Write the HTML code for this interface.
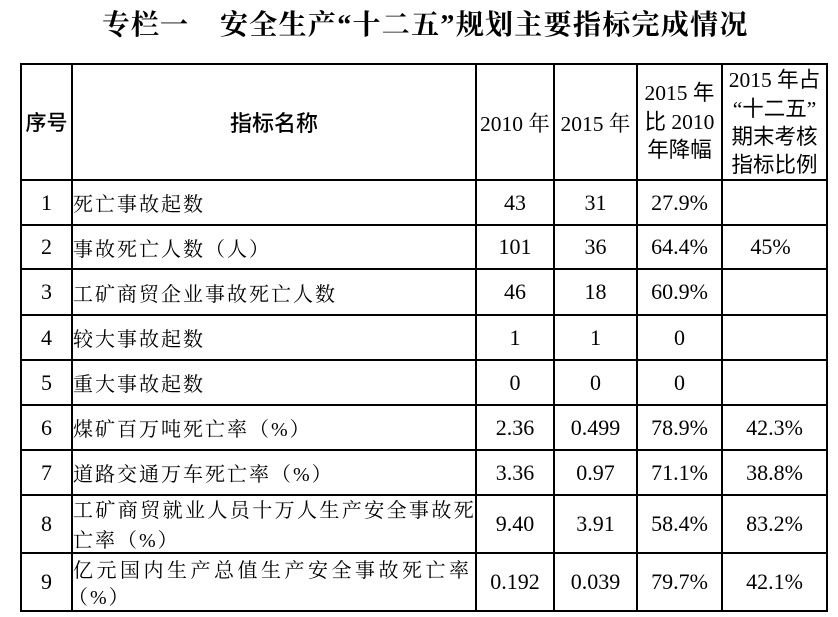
<!DOCTYPE html>
<html>
<head>
<meta charset="utf-8">
<style>
html,body{margin:0;padding:0;background:#fff;}
#p{position:relative;width:838px;height:617px;overflow:hidden;background:#fff;color:#000;}
.h{position:absolute;height:2px;background:#000;left:20px;width:808px;}
.v{position:absolute;width:2px;background:#000;top:63px;height:549px;}
.c{position:absolute;display:flex;align-items:center;justify-content:center;white-space:nowrap;text-align:center;}
.n{font-family:"Liberation Serif","Noto Serif CJK SC",serif;font-size:22px;}
.t{position:absolute;left:73px;display:flex;align-items:center;white-space:nowrap;font-family:"Liberation Serif","Noto Serif CJK SC",serif;font-size:20px;letter-spacing:2px;}
.ttl{position:absolute;top:8px;height:36px;line-height:36px;font-family:"Liberation Serif","Noto Serif CJK SC",serif;font-weight:bold;font-size:28px;white-space:nowrap;}
.hs{font-family:"Liberation Serif","Noto Sans CJK SC",sans-serif;font-size:21.5px;line-height:28.4px;}
.hr{font-family:"Liberation Serif","Noto Serif CJK SC",serif;font-size:21.5px;}
</style>
</head>
<body>
<div id="p">
<div class="ttl" style="left:102px;letter-spacing:1px;">专栏一</div>
<div class="ttl" style="left:220px;letter-spacing:1.3px;">安全生产“十二五”规划主要指标完成情况</div>

<!-- horizontal lines -->
<div class="h" style="top:63px"></div>
<div class="h" style="top:179px"></div>
<div class="h" style="top:224px"></div>
<div class="h" style="top:268px"></div>
<div class="h" style="top:314px"></div>
<div class="h" style="top:359px"></div>
<div class="h" style="top:404px"></div>
<div class="h" style="top:449px"></div>
<div class="h" style="top:494px"></div>
<div class="h" style="top:552px"></div>
<div class="h" style="top:610px"></div>
<!-- vertical lines -->
<div class="v" style="left:20px"></div>
<div class="v" style="left:71px"></div>
<div class="v" style="left:475px"></div>
<div class="v" style="left:553px"></div>
<div class="v" style="left:636px"></div>
<div class="v" style="left:721px"></div>
<div class="v" style="left:826px"></div>

<!-- header -->
<div class="c" style="left:22px;width:49px;top:65px;height:114px;font-family:'Noto Sans CJK SC',sans-serif;font-weight:500;font-size:21px;">序号</div>
<div class="c" style="left:73px;width:402px;top:65px;height:114px;font-family:'Noto Sans CJK SC',sans-serif;font-weight:500;font-size:22px;">指标名称</div>
<div class="c hr" style="left:477px;width:76px;top:65px;height:114px;">2010 年</div>
<div class="c hr" style="left:555px;width:81px;top:65px;height:114px;">2015 年</div>
<div class="c hs" style="left:638px;width:83px;top:65px;height:114px;"><div>2015 年<br>比 2010<br>年降幅</div></div>
<div class="c hs" style="left:723px;width:103px;top:66px;height:114px;"><div>2015 年占<br>“十二五”<br>期末考核<br>指标比例</div></div>

<!-- row 1 -->
<div class="c n" style="left:22px;width:49px;top:181px;height:43px;">1</div>
<div class="t" style="top:181px;height:43px;">死亡事故起数</div>
<div class="c n" style="left:477px;width:76px;top:181px;height:43px;">43</div>
<div class="c n" style="left:555px;width:81px;top:181px;height:43px;">31</div>
<div class="c n" style="left:638px;width:83px;top:181px;height:43px;">27.9%</div>
<!-- row 2 -->
<div class="c n" style="left:22px;width:49px;top:226px;height:42px;">2</div>
<div class="t" style="top:226px;height:42px;">事故死亡人数（人）</div>
<div class="c n" style="left:477px;width:76px;top:226px;height:42px;">101</div>
<div class="c n" style="left:555px;width:81px;top:226px;height:42px;">36</div>
<div class="c n" style="left:638px;width:83px;top:226px;height:42px;">64.4%</div>
<div class="c n" style="left:719px;width:103px;top:226px;height:42px;">45%</div>
<!-- row 3 -->
<div class="c n" style="left:22px;width:49px;top:270px;height:44px;">3</div>
<div class="t" style="top:270px;height:44px;">工矿商贸企业事故死亡人数</div>
<div class="c n" style="left:477px;width:76px;top:270px;height:44px;">46</div>
<div class="c n" style="left:555px;width:81px;top:270px;height:44px;">18</div>
<div class="c n" style="left:638px;width:83px;top:270px;height:44px;">60.9%</div>
<!-- row 4 -->
<div class="c n" style="left:22px;width:49px;top:316px;height:43px;">4</div>
<div class="t" style="top:316px;height:43px;">较大事故起数</div>
<div class="c n" style="left:477px;width:76px;top:316px;height:43px;">1</div>
<div class="c n" style="left:555px;width:81px;top:316px;height:43px;">1</div>
<div class="c n" style="left:638px;width:83px;top:316px;height:43px;">0</div>
<!-- row 5 -->
<div class="c n" style="left:22px;width:49px;top:361px;height:43px;">5</div>
<div class="t" style="top:361px;height:43px;">重大事故起数</div>
<div class="c n" style="left:477px;width:76px;top:361px;height:43px;">0</div>
<div class="c n" style="left:555px;width:81px;top:361px;height:43px;">0</div>
<div class="c n" style="left:638px;width:83px;top:361px;height:43px;">0</div>
<!-- row 6 -->
<div class="c n" style="left:22px;width:49px;top:406px;height:43px;">6</div>
<div class="t" style="top:406px;height:43px;">煤矿百万吨死亡率（%）</div>
<div class="c n" style="left:477px;width:76px;top:406px;height:43px;">2.36</div>
<div class="c n" style="left:555px;width:81px;top:406px;height:43px;">0.499</div>
<div class="c n" style="left:638px;width:83px;top:406px;height:43px;">78.9%</div>
<div class="c n" style="left:723px;width:103px;top:406px;height:43px;">42.3%</div>
<!-- row 7 -->
<div class="c n" style="left:22px;width:49px;top:451px;height:43px;">7</div>
<div class="t" style="top:451px;height:43px;">道路交通万车死亡率（%）</div>
<div class="c n" style="left:477px;width:76px;top:451px;height:43px;">3.36</div>
<div class="c n" style="left:555px;width:81px;top:451px;height:43px;">0.97</div>
<div class="c n" style="left:638px;width:83px;top:451px;height:43px;">71.1%</div>
<div class="c n" style="left:723px;width:103px;top:451px;height:43px;">38.8%</div>
<!-- row 8 -->
<div class="c n" style="left:22px;width:49px;top:496px;height:56px;">8</div>
<div class="t" style="top:494px;height:28px;letter-spacing:2.4px;">工矿商贸就业人员十万人生产安全事故死</div>
<div class="t" style="top:524px;height:28px;">亡率（%）</div>
<div class="c n" style="left:477px;width:76px;top:496px;height:56px;">9.40</div>
<div class="c n" style="left:555px;width:81px;top:496px;height:56px;">3.91</div>
<div class="c n" style="left:638px;width:83px;top:496px;height:56px;">58.4%</div>
<div class="c n" style="left:723px;width:103px;top:496px;height:56px;">83.2%</div>
<!-- row 9 -->
<div class="c n" style="left:22px;width:49px;top:554px;height:56px;">9</div>
<div class="t" style="top:554px;height:28px;letter-spacing:3.5px;">亿元国内生产总值生产安全事故死亡率</div>
<div class="t" style="top:581px;height:28px;left:68px;">（%）</div>
<div class="c n" style="left:477px;width:76px;top:554px;height:56px;">0.192</div>
<div class="c n" style="left:555px;width:81px;top:554px;height:56px;">0.039</div>
<div class="c n" style="left:638px;width:83px;top:554px;height:56px;">79.7%</div>
<div class="c n" style="left:723px;width:103px;top:554px;height:56px;">42.1%</div>
</div>
</body>
</html>
